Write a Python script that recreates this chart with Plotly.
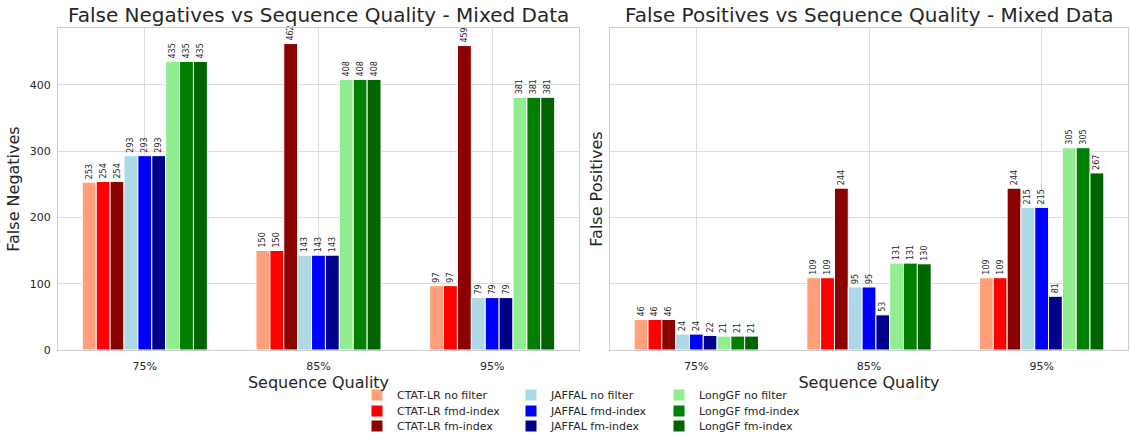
import plotly.graph_objects as go

categories = ["75%", "85%", "95%"]
series_names = [
    "CTAT-LR no filter", "CTAT-LR fmd-index", "CTAT-LR fm-index",
    "JAFFAL no filter", "JAFFAL fmd-index", "JAFFAL fm-index",
    "LongGF no filter", "LongGF fmd-index", "LongGF fm-index",
]
colors = ["#FFA07A", "#FF0000", "#8B0000",
          "#ADD8E6", "#0000FF", "#00008B",
          "#90EE90", "#008000", "#006400"]

fn_ctat_nofilter = [253, 150, 97]
fn_ctat_fmd = [254, 150, 97]
fn_ctat_fm = [254, 462, 459]
fn_jaffal_nofilter = [293, 143, 79]
fn_jaffal_fmd = [293, 143, 79]
fn_jaffal_fm = [293, 143, 79]
fn_longgf_nofilter = [435, 408, 381]
fn_longgf_fmd = [435, 408, 381]
fn_longgf_fm = [435, 408, 381]

fp_ctat_nofilter = [46, 109, 109]
fp_ctat_fmd = [46, 109, 109]
fp_ctat_fm = [46, 244, 244]
fp_jaffal_nofilter = [24, 95, 215]
fp_jaffal_fmd = [24, 95, 215]
fp_jaffal_fm = [22, 53, 81]
fp_longgf_nofilter = [21, 131, 305]
fp_longgf_fmd = [21, 131, 305]
fp_longgf_fm = [21, 130, 267]

fn_data = [fn_ctat_nofilter, fn_ctat_fmd, fn_ctat_fm,
           fn_jaffal_nofilter, fn_jaffal_fmd, fn_jaffal_fm,
           fn_longgf_nofilter, fn_longgf_fmd, fn_longgf_fm]
fp_data = [fp_ctat_nofilter, fp_ctat_fmd, fp_ctat_fm,
           fp_jaffal_nofilter, fp_jaffal_fmd, fp_jaffal_fm,
           fp_longgf_nofilter, fp_longgf_fmd, fp_longgf_fm]

W, H = 1130, 441
FONT = "DejaVu Sans"
TXT = "#262626"


def px_x(p):
    return p / W


def px_y(p):
    return 1 - p / H


# one single-entry legend per series so the 3x3 grid can be placed exactly
legend_ids = ["legend"] + ["legend%d" % k for k in range(2, 10)]
col_x = [357, 511, 659]
row_y = [395, 411, 426]

fig = go.Figure()
for i, (name, col) in enumerate(zip(series_names, colors)):
    for data, xa, ya, show in [(fn_data[i], "x", "y", True), (fp_data[i], "x2", "y2", False)]:
        fig.add_trace(go.Bar(
            x=categories, y=data, name=name, marker_color=col,
            marker_line_color="white", marker_line_width=1,
            text=[str(v) for v in data], textposition="outside", textangle=-90,
            textfont=dict(size=8, color=TXT, family=FONT),
            constraintext="none", cliponaxis=False,
            xaxis=xa, yaxis=ya, showlegend=show, legend=legend_ids[i],
            legendgroup=name,
        ))

axis_common = dict(showgrid=True, gridcolor="#dcdcdc", gridwidth=1,
                   showline=True, linecolor="#cfcfcf", linewidth=1, mirror=True,
                   ticks="", zeroline=False, automargin=False,
                   tickfont=dict(size=11, color=TXT, family=FONT))

ymax = 485.5
xtitle = dict(text="Sequence Quality", font=dict(size=16, color=TXT), standoff=3)
fig.update_layout(
    width=W, height=H, margin=dict(l=0, r=0, t=0, b=0),
    paper_bgcolor="white", plot_bgcolor="white",
    barmode="group", bargap=0.28, bargroupgap=0,
    font=dict(family=FONT, color=TXT),
    xaxis=dict(domain=[px_x(58), px_x(579)], anchor="y", type="category",
               range=[-0.5, 2.5], ticklabelstandoff=6,
               title=xtitle, **axis_common),
    yaxis=dict(domain=[px_y(350), px_y(28)], anchor="x", range=[0, ymax],
               tickvals=[0, 100, 200, 300, 400], ticklabelstandoff=4,
               title=dict(text="False Negatives", font=dict(size=16, color=TXT), standoff=6),
               **axis_common),
    xaxis2=dict(domain=[px_x(610), px_x(1128)], anchor="y2", type="category",
                range=[-0.5, 2.5], ticklabelstandoff=6,
                title=xtitle, **axis_common),
    yaxis2=dict(domain=[px_y(350), px_y(28)], anchor="x2", range=[0, ymax],
                tickvals=[0, 100, 200, 300, 400], showticklabels=False,
                title=dict(text="False Positives", font=dict(size=16, color=TXT), standoff=2),
                **axis_common),
)

leg_layout = {}
for i, lid in enumerate(legend_ids):
    c, r = i // 3, i % 3
    leg_layout[lid] = dict(
        orientation="v", yanchor="middle", xanchor="left",
        x=px_x(col_x[c]), y=px_y(row_y[r]),
        font=dict(size=11, color=TXT, family=FONT),
        bgcolor="rgba(0,0,0,0)", itemwidth=30, borderwidth=0,
    )
fig.update_layout(**leg_layout)

fig.add_annotation(text="False Negatives vs Sequence Quality - Mixed Data",
                   x=px_x((58 + 579) / 2), y=px_y(15), xref="paper", yref="paper",
                   showarrow=False, font=dict(size=20, color=TXT, family=FONT),
                   xanchor="center", yanchor="middle")
fig.add_annotation(text="False Positives vs Sequence Quality - Mixed Data",
                   x=px_x((610 + 1128) / 2), y=px_y(15), xref="paper", yref="paper",
                   showarrow=False, font=dict(size=20, color=TXT, family=FONT),
                   xanchor="center", yanchor="middle")

fig.write_html("out.html", config={"displayModeBar": False},
               post_script="document.body.style.margin='0';document.body.style.overflow='hidden';")
